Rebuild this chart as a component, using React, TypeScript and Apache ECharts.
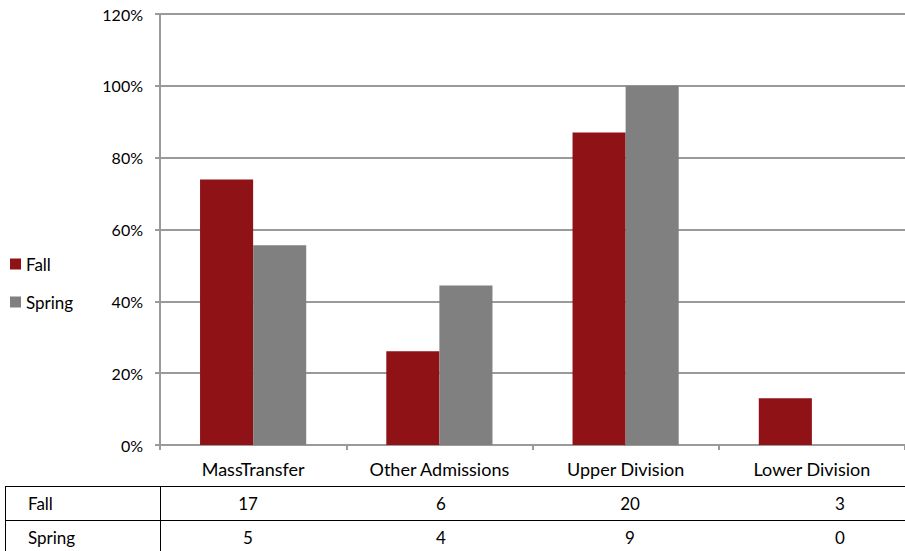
import React, { useEffect, useRef } from "react";
import * as echarts from "echarts";

const categories = ["MassTransfer", "Other Admissions", "Upper Division", "Lower Division"];
const fallPct = [73.9, 26.1, 87.0, 13.0];
const springPct = [55.6, 44.4, 100, 0];
const fallCounts = [17, 6, 20, 3];
const springCounts = [5, 4, 9, 0];
const yTicks = { min: 0, max: 120, interval: 20 };

const FONT = "Lato";
const FS = 17;
const GRID_LEFT = 160;
const GRID_TOP = 14;
const GRID_W = 747;
const GRID_H = 431;
const tableTextX = [248, 441, 630, 840];

export default function App() {
  const ref = useRef<HTMLDivElement>(null);
  useEffect(() => {
    document.body.style.margin = "0";
    const chart = echarts.init(ref.current!, null, { renderer: "svg" });
    const rowY = [503, 537];
    const rows = [
      { name: "Fall", vals: fallCounts },
      { name: "Spring", vals: springCounts },
    ];
    const tableTexts: any[] = [];
    rows.forEach((r, ri) => {
      tableTexts.push({
        type: "text",
        x: 28,
        y: rowY[ri],
        style: { text: r.name, font: `${FS}px ${FONT}`, fill: "#000", textVerticalAlign: "middle", textAlign: "left" },
      });
      r.vals.forEach((v, ci) => {
        tableTexts.push({
          type: "text",
          x: tableTextX[ci],
          y: rowY[ri],
          style: { text: String(v), font: `${FS}px ${FONT}`, fill: "#000", textVerticalAlign: "middle", textAlign: "center" },
        });
      });
    });
    const lineStyle = { stroke: "#000", lineWidth: 1 };
    const gray = "#9a9a9a";
    chart.setOption({
      animation: false,
      backgroundColor: "#fff",
      grid: { left: GRID_LEFT, top: GRID_TOP, width: GRID_W, height: GRID_H, containLabel: false },
      legend: {
        orient: "vertical",
        left: 5,
        top: 250,
        itemWidth: 11,
        itemHeight: 11,
        itemGap: 20,
        icon: "rect",
        textStyle: { fontFamily: FONT, fontSize: FS, color: "#000", lineHeight: 18 },
        data: ["Fall", "Spring"],
      },
      xAxis: {
        type: "category",
        data: categories,
        axisLine: { lineStyle: { color: gray, width: 2 } },
        axisTick: { show: true, interval: 0, length: 5, lineStyle: { color: gray, width: 2 } },
        axisLabel: { interval: 0, margin: 15, fontFamily: FONT, fontSize: 18, color: "#000" },
      },
      yAxis: {
        type: "value",
        min: yTicks.min,
        max: yTicks.max,
        interval: yTicks.interval,
        axisLine: { show: true, lineStyle: { color: gray, width: 2 } },
        axisTick: { show: true, length: 5, lineStyle: { color: gray, width: 2 } },
        axisLabel: { formatter: "{value}%", margin: 17, fontFamily: FONT, fontSize: 16, color: "#000" },
        splitLine: { lineStyle: { color: gray, width: 2 } },
      },
      series: [
        { name: "Fall", type: "bar", data: fallPct, barGap: "0%", barCategoryGap: "43%", itemStyle: { color: "#8E1216" } },
        { name: "Spring", type: "bar", data: springPct, barGap: "0%", barCategoryGap: "43%", itemStyle: { color: "#808080" } },
      ],
      graphic: [
        { type: "line", shape: { x1: 5, y1: 486.5, x2: 905, y2: 486.5 }, style: lineStyle },
        { type: "line", shape: { x1: 5, y1: 520.5, x2: 905, y2: 520.5 }, style: lineStyle },
        { type: "line", shape: { x1: 5.5, y1: 486, x2: 5.5, y2: 551 }, style: lineStyle },
        { type: "line", shape: { x1: 160.5, y1: 486, x2: 160.5, y2: 551 }, style: lineStyle },
        ...tableTexts,
      ],
    });
    return () => chart.dispose();
  }, []);
  return <div ref={ref} style={{ width: 905, height: 551 }} />;
}
